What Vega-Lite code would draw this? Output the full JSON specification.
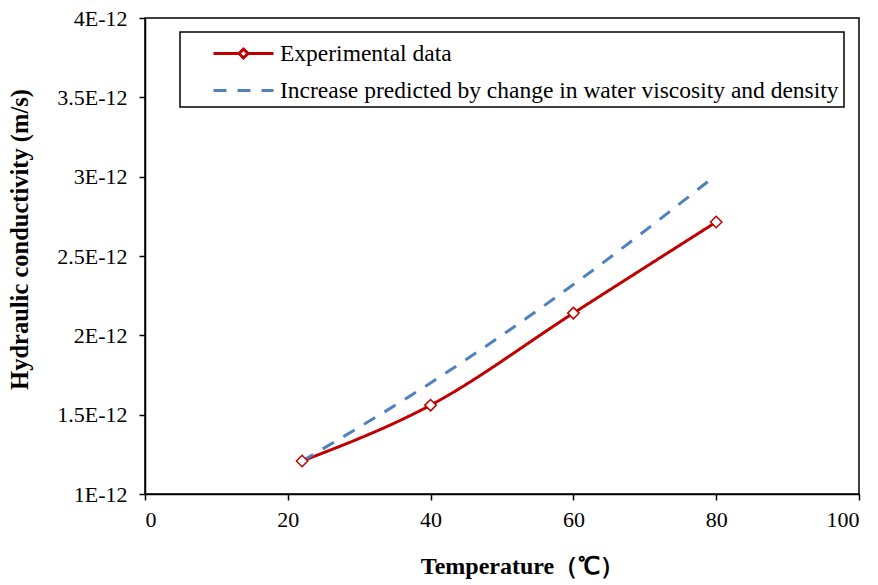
{
  "$schema": "https://vega.github.io/schema/vega-lite/v6.json",
  "width": 714,
  "height": 476,
  "autosize": {"type": "none"},
  "padding": {"left": 145, "top": 18, "right": 19, "bottom": 91},
  "background": "white",
  "config": {
    "view": {"stroke": "#000", "strokeWidth": 1.5},
    "font": "Liberation Serif"
  },
  "data": {
    "values": [
      {"series": "Experimental data", "T": 22, "K": 1.208e-12},
      {"series": "Experimental data", "T": 40, "K": 1.56e-12},
      {"series": "Experimental data", "T": 60, "K": 2.14e-12},
      {"series": "Experimental data", "T": 80, "K": 2.714e-12},
      {"series": "Increase predicted by change in water viscosity and density", "T": 22, "K": 1.208e-12},
      {"series": "Increase predicted by change in water viscosity and density", "T": 40, "K": 1.70e-12},
      {"series": "Increase predicted by change in water viscosity and density", "T": 60, "K": 2.32e-12},
      {"series": "Increase predicted by change in water viscosity and density", "T": 80, "K": 3.01e-12}
    ]
  },
  "layer": [
    {
      "mark": {"type": "line", "interpolate": "monotone", "strokeWidth": 3},
      "encoding": {
        "x": {
          "field": "T", "type": "quantitative",
          "scale": {"domain": [0, 100], "nice": false},
          "axis": {
            "values": [0, 20, 40, 60, 80, 100],
            "title": "Temperature（℃）",
            "titleFont": "Liberation Serif", "titleFontSize": 24, "titleFontWeight": "bold", "titleColor": "#000",
            "titlePadding": 24,
            "titleX": 377,
            "titleAlign": "center",
            "labelFont": "Liberation Serif", "labelFontSize": 22, "labelColor": "#000", "labelPadding": 9,
            "grid": false, "domainColor": "#000", "domainWidth": 1.5,
            "tickColor": "#000", "tickSize": 6, "tickWidth": 1.5
          }
        },
        "y": {
          "field": "K", "type": "quantitative",
          "scale": {"domain": [1e-12, 4e-12], "nice": false, "zero": false},
          "axis": {
            "values": [1e-12, 1.5e-12, 2e-12, 2.5e-12, 3e-12, 3.5e-12, 4e-12],
            "labelExpr": "format(datum.value*1e12, '.1~f') + 'E-12'",
            "title": "Hydraulic conductivity (m/s)",
            "titleFont": "Liberation Serif", "titleFontSize": 24.5, "titleFontWeight": "bold", "titleColor": "#000",
            "titlePadding": 24,
            "titleY": 221,
            "labelFont": "Liberation Serif", "labelFontSize": 22, "labelColor": "#000", "labelPadding": 12,
            "grid": false, "domainColor": "#000", "domainWidth": 1.5,
            "tickColor": "#000", "tickSize": 6, "tickWidth": 1.5
          }
        },
        "color": {
          "field": "series", "type": "nominal",
          "scale": {
            "domain": ["Experimental data", "Increase predicted by change in water viscosity and density"],
            "range": ["#C00000", "#4F81BD"]
          },
          "legend": {
            "title": null,
            "orient": "none",
            "legendX": 35,
            "legendY": 14,
            "direction": "vertical",
            "strokeColor": "#000",
            "padding": 5,
            "symbolType": "M-2,0L2,0",
            "symbolSize": 900,
            "symbolStrokeWidth": 3,
            "symbolOffset": 42,
            "labelFont": "Liberation Serif",
            "labelFontSize": 23.5,
            "labelColor": "#000",
            "labelOffset": 20,
            "rowPadding": 9,
            "labelLimit": 800,
            "encode": {
              "legend": {"update": {"strokeWidth": {"value": 1.5}}},
              "symbols": {
                "update": {
                  "shape": {"signal": "datum.value === 'Experimental data' ? 'M-2,0L-0.3,0M0.3,0L2,0M-0.3,0L0,-0.3L0.3,0L0,0.3Z' : 'M-2,0L2,0'"},
                  "fill": {"value": "transparent"}
                }
              }
            }
          }
        },
        "strokeDash": {
          "field": "series", "type": "nominal",
          "scale": {
            "domain": ["Experimental data", "Increase predicted by change in water viscosity and density"],
            "range": [[1, 0], [13, 11]]
          },
          "legend": null
        }
      }
    },
    {
      "mark": {"type": "point", "shape": "diamond", "filled": true, "fill": "white", "stroke": "#C00000", "strokeWidth": 1.5, "size": 130, "opacity": 1},
      "transform": [{"filter": "datum.series === 'Experimental data'"}],
      "encoding": {
        "x": {"field": "T", "type": "quantitative"},
        "y": {"field": "K", "type": "quantitative"}
      }
    }
  ]
}
